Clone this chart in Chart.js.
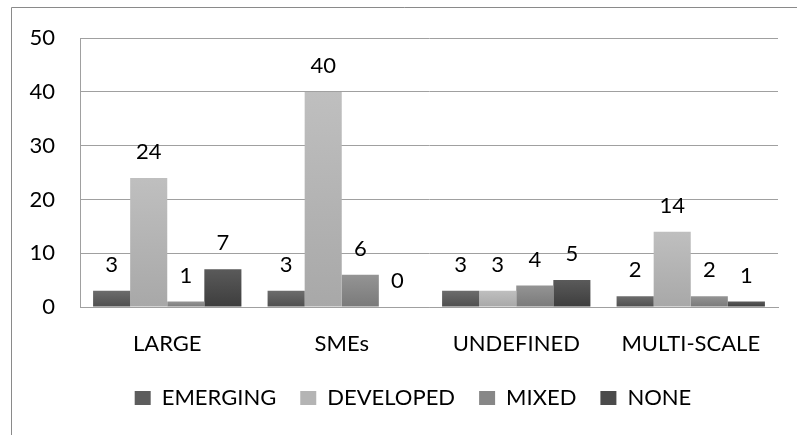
<!DOCTYPE html>
<html>
<head>
<meta charset="utf-8">
<script src="https://cdn.jsdelivr.net/npm/chart.js@4"></script>
<style>
  html, body { margin: 0; padding: 0; background: #fff; }
  #wrap { width: 797px; height: 435px; position: relative; }
</style>
</head>
<body>
<div id="wrap"><canvas id="chart" width="797" height="435"></canvas></div>
<script>
// company size groups on the x axis
const categories = ["LARGE", "SMEs", "UNDEFINED", "MULTI-SCALE"];

// one series per market type
const emerging  = [3, 3, 3, 2];
const developed = [24, 40, 3, 14];
const mixed     = [1, 6, 4, 2];
const none      = [7, 0, 5, 1];

const yTicks = [0, 10, 20, 30, 40, 50];

const FONT = "Lato, 'Open Sans', sans-serif";

// top/bottom shade for each series
const shades = {
    EMERGING:  ["#6c6c6c", "#4f4f4f", "#5d5d5d"],
    DEVELOPED: ["#bfbfbf", "#a8a8a8", "#b4b4b4"],
    MIXED:     ["#949494", "#7a7a7a", "#878787"],
    NONE:      ["#5a5a5a", "#3d3d3d", "#4b4b4b"]
};

// vertical gradient per bar, lighter on top
function barFill(name) {
    return function (c) {
        const chart = c.chart;
        const s = shades[name];
        if (!chart.chartArea || !chart.scales.y || c.raw === undefined) return s[2];
        const y = chart.scales.y;
        const top = y.getPixelForValue(c.raw);
        const base = y.getPixelForValue(0);
        if (!isFinite(top) || Math.abs(base - top) < 1) return s[2];
        const g = chart.ctx.createLinearGradient(0, top, 0, base);
        g.addColorStop(0, s[0]);
        g.addColorStop(1, s[1]);
        return g;
    };
}

function series(name, values) {
    return {
        label: name,
        data: values,
        backgroundColor: barFill(name),
        borderWidth: 0,
        categoryPercentage: 0.85,
        barPercentage: 1
    };
}

// value above each bar
const valueLabels = {
    id: "valueLabels",
    afterDatasetsDraw(chart) {
        const ctx = chart.ctx;
        ctx.save();
        ctx.font = "22px " + FONT;
        ctx.fillStyle = "#000";
        ctx.textAlign = "center";
        ctx.textBaseline = "middle";
        chart.data.datasets.forEach((ds, i) => {
            chart.getDatasetMeta(i).data.forEach((bar, j) => {
                ctx.fillText(String(ds.data[j]), bar.x, bar.y - 26);
            });
        });
        ctx.restore();
    }
};

// thin outer frame of the chart object
const frame = {
    id: "frame",
    beforeDraw(chart) {
        const ctx = chart.ctx;
        ctx.save();
        ctx.strokeStyle = "#8a8a8a";
        ctx.lineWidth = 1;
        ctx.beginPath();
        ctx.moveTo(11.5, chart.height);
        ctx.lineTo(11.5, 7.5);
        ctx.lineTo(chart.width, 7.5);
        ctx.stroke();
        ctx.restore();
    }
};

// nudge the legend row a bit to the right
const legendShift = {
    id: "legendShift",
    afterLayout(chart) {
        if (chart.legend) {
            chart.legend.left += 24;
            chart.legend.right += 24;
        }
    }
};

new Chart(document.getElementById("chart").getContext("2d"), {
    type: "bar",
    data: {
        labels: categories,
        datasets: [
            series("EMERGING", emerging),
            series("DEVELOPED", developed),
            series("MIXED", mixed),
            series("NONE", none)
        ]
    },
    options: {
        responsive: false,
        animation: false,
        layout: { padding: { left: 0, top: 37, right: 19, bottom: 16 } },
        plugins: {
            tooltip: { enabled: false },
            legend: {
                position: "bottom",
                labels: {
                    font: { family: FONT, size: 22 },
                    color: "#000",
                    boxWidth: 16,
                    boxHeight: 14,
                    padding: 24,
                    generateLabels(chart) {
                        return chart.data.datasets.map((ds, i) => ({
                            text: ds.label,
                            fillStyle: shades[ds.label][2],
                            strokeStyle: shades[ds.label][2],
                            lineWidth: 0,
                            hidden: false,
                            datasetIndex: i
                        }));
                    }
                }
            }
        },
        scales: {
            x: {
                grid: { display: false, drawTicks: false },
                border: { color: "#a0a0a0", width: 1 },
                ticks: { font: { family: FONT, size: 22 }, color: "#000", padding: 24 },
                afterFit(s) { s.height = 56; }
            },
            y: {
                min: 0,
                max: 50,
                afterBuildTicks(s) { s.ticks = yTicks.map(v => ({ value: v })); },
                grid: { color: "#a0a0a0", lineWidth: 1, drawTicks: false },
                border: { color: "#a0a0a0", width: 1 },
                ticks: { font: { family: FONT, size: 22 }, color: "#000", padding: 25 },
                afterFit(s) { s.width = 80; }
            }
        }
    },
    plugins: [frame, legendShift, valueLabels]
});
</script>
</body>
</html>
